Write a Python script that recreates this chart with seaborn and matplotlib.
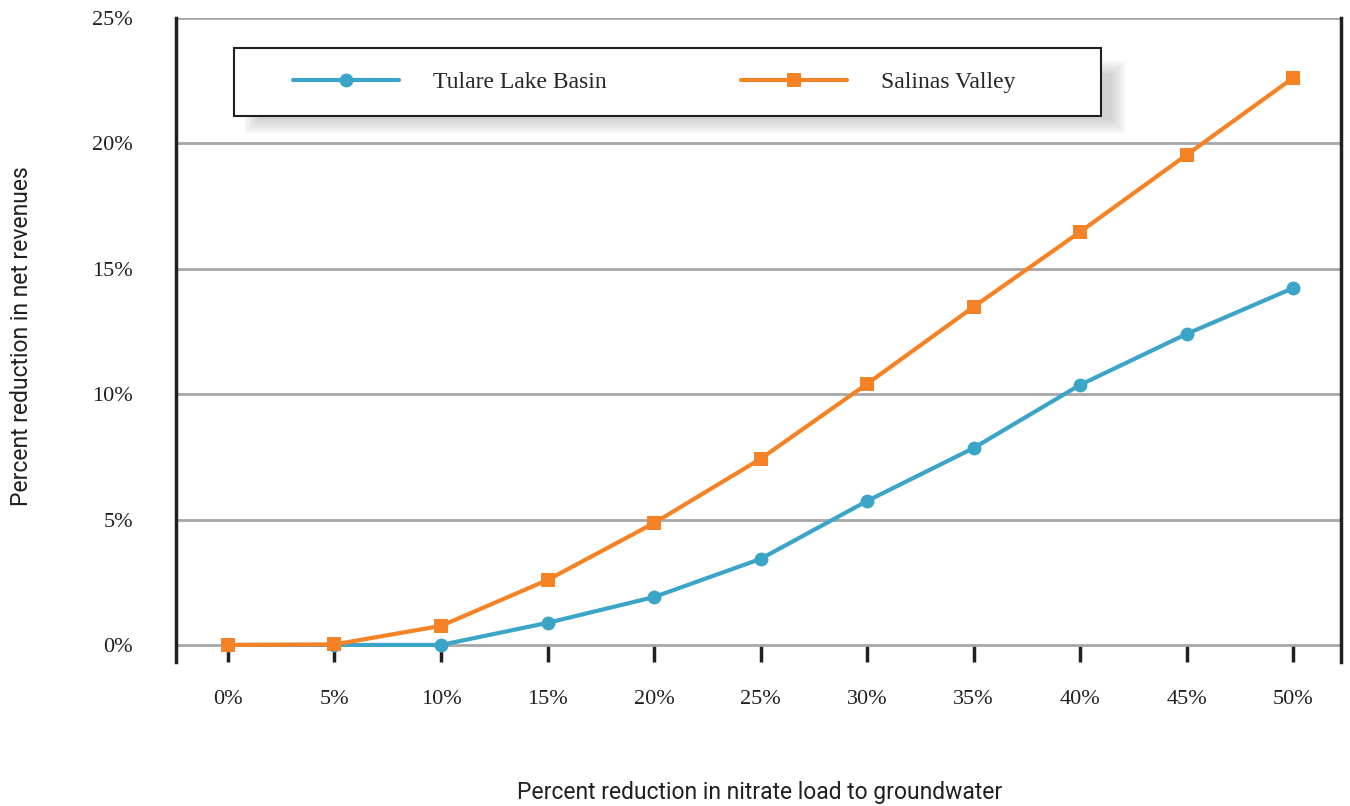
import numpy as np
import pandas as pd
import seaborn as sns
import matplotlib.pyplot as plt
from matplotlib.patches import Rectangle
from matplotlib.ticker import FuncFormatter

# Values (percent)
nitrate_cut = [0, 5, 10, 15, 20, 25, 30, 35, 40, 45, 50]
tulare = [0.0, 0.0, 0.0, 0.88, 1.91, 3.43, 5.74, 7.85, 10.37, 12.4, 14.23]
salinas = [0.0, 0.02, 0.76, 2.59, 4.86, 7.42, 10.41, 13.48, 16.47, 19.54, 22.61]
series = ["Tulare Lake Basin", "Salinas Valley"]
colors = {"Tulare Lake Basin": "#3ba5c8", "Salinas Valley": "#f58225"}

df = pd.DataFrame({
    "Nitrate": nitrate_cut * 2,
    "Revenue": tulare + salinas,
    "Region": [series[0]] * len(nitrate_cut) + [series[1]] * len(nitrate_cut),
})

sns.set_style("white")
serif = ["Liberation Serif", "DejaVu Serif"]
narrow = ["Liberation Sans Narrow", "Roboto", "DejaVu Sans"]
plt.rcParams["font.family"] = serif

W, H = 1350, 806
fig = plt.figure(figsize=(13.5, 8.06), dpi=100)
ax = fig.add_axes([176 / W, 1 - 662 / H, (1341 - 176) / W, (662 - 18) / H])

sns.lineplot(data=df, x="Nitrate", y="Revenue", hue="Region", style="Region",
             palette=colors, markers={series[0]: "o", series[1]: "s"},
             dashes=False, linewidth=3, markersize=10, markeredgewidth=0,
             ax=ax)

ax.set_xlim(-2.44, 52.25)
ax.set_ylim(-0.68, 25)
ax.set_xticks(nitrate_cut)
ax.set_yticks([0, 5, 10, 15, 20, 25])
pct = FuncFormatter(lambda v, p: "%d%%" % v)
ax.xaxis.set_major_formatter(pct)
ax.yaxis.set_major_formatter(pct)

ax.yaxis.grid(True, color="#a7a7aa", linewidth=2)
ax.xaxis.grid(False)
for s in ["top", "bottom"]:
    ax.spines[s].set_visible(False)
for s in ["left", "right"]:
    ax.spines[s].set_color("#231f20")
    ax.spines[s].set_linewidth(2.5)

ax.tick_params(axis="y", direction="out", length=15, width=2, color="#a7a7aa",
               pad=16, labelsize=16, labelcolor="#231f20")
ax.tick_params(axis="x", direction="in", length=12, width=2.5, color="#231f20",
               pad=20, labelsize=16, labelcolor="#231f20", bottom=True)

ax.set_xlabel("")
ax.set_ylabel("")
fig.text(760 / W, 1 - 792 / H, "Percent reduction in nitrate load to groundwater",
         fontsize=16.5, family=narrow, color="#231f20", ha="center", va="center")
fig.text(22 / W, 1 - 336 / H, "Percent reduction in net revenues", rotation=90,
         fontsize=16.5, family=narrow, color="#231f20", ha="center", va="center")

# legend box with a soft shadow, drawn in axes coordinates
def to_ax(px, py):
    return (px - 176) / 1165, 1 - (py - 18) / 644

bx0, by1 = to_ax(234, 48)
bx1, by0 = to_ax(1101, 116)
for k in range(10):
    g = k * 1.6
    sx0, sy1 = to_ax(244 + g, 60 + g)
    sx1, sy0 = to_ax(1126 - g, 134 - g)
    ax.add_patch(Rectangle((sx0, sy0), sx1 - sx0, sy1 - sy0, transform=ax.transAxes,
                           facecolor="#888888", edgecolor="none", alpha=0.04,
                           zorder=4))
ax.add_patch(Rectangle((bx0, by0), bx1 - bx0, by1 - by0, transform=ax.transAxes,
                       facecolor="white", edgecolor="#231f20", linewidth=1.5,
                       zorder=5))

handles, labels = ax.get_legend_handles_labels()
lx, ly = to_ax(293, 82)
leg = ax.legend(handles, labels, loc="center left", bbox_to_anchor=(lx, ly),
                ncol=2, fontsize=17, handlelength=4.5, handletextpad=1.45,
                columnspacing=5.65, borderpad=0, borderaxespad=0,
                frameon=False)
leg.set_zorder(6)

plt.savefig("out.png", dpi=100)
